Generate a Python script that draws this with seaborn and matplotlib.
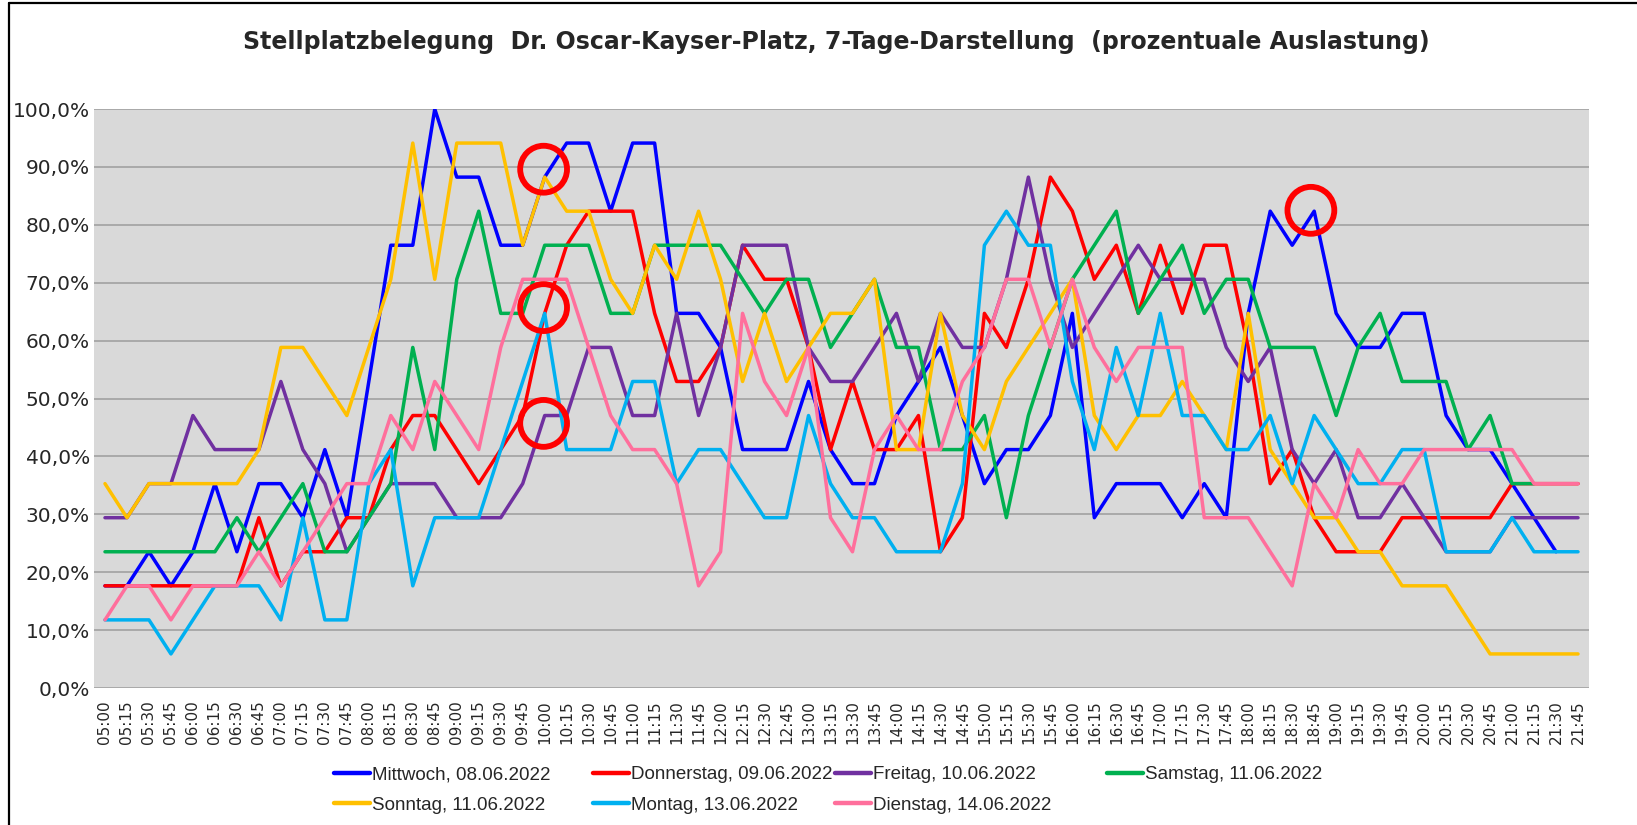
import numpy as np
import pandas as pd
import matplotlib
matplotlib.use("Agg")
import matplotlib.pyplot as plt
from matplotlib.patches import Ellipse
from matplotlib.lines import Line2D
import seaborn as sns

sns.set_style("white")
plt.rcParams['font.family'] = ['DejaVu Sans']

# =====================================
# Data: occupied spots out of 17, every 15 minutes
# =====================================
capacity = 17

times = ["05:00", "05:15", "05:30", "05:45", "06:00", "06:15", "06:30", "06:45",
         "07:00", "07:15", "07:30", "07:45", "08:00", "08:15", "08:30", "08:45",
         "09:00", "09:15", "09:30", "09:45", "10:00", "10:15", "10:30", "10:45",
         "11:00", "11:15", "11:30", "11:45", "12:00", "12:15", "12:30", "12:45",
         "13:00", "13:15", "13:30", "13:45", "14:00", "14:15", "14:30", "14:45",
         "15:00", "15:15", "15:30", "15:45", "16:00", "16:15", "16:30", "16:45",
         "17:00", "17:15", "17:30", "17:45", "18:00", "18:15", "18:30", "18:45",
         "19:00", "19:15", "19:30", "19:45", "20:00", "20:15", "20:30", "20:45",
         "21:00", "21:15", "21:30", "21:45"]

mittwoch = [3, 3, 4, 3, 4, 6, 4, 6, 6, 5,
            7, 5, 9, 13, 13, 17, 15, 15, 13, 13,
            15, 16, 16, 14, 16, 16, 11, 11, 10, 7,
            7, 7, 9, 7, 6, 6, 8, 9, 10, 8,
            6, 7, 7, 8, 11, 5, 6, 6, 6, 5,
            6, 5, 11, 14, 13, 14, 11, 10, 10, 11,
            11, 8, 7, 7, 6, 5, 4, None]

donnerstag = [3, 3, 3, 3, 3, 3, 3, 5, 3, 4,
              4, 5, 5, 7, 8, 8, 7, 6, 7, 8,
              11, 13, 14, 14, 14, 11, 9, 9, 10, 13,
              12, 12, 10, 7, 9, 7, 7, 8, 4, 5,
              11, 10, 12, 15, 14, 12, 13, 11, 13, 11,
              13, 13, 10, 6, 7, 5, 4, 4, 4, 5,
              5, 5, 5, 5, 6, 6, 6, 6]

freitag = [5, 5, 6, 6, 8, 7, 7, 7, 9, 7,
           6, 4, 5, 6, 6, 6, 5, 5, 5, 6,
           8, 8, 10, 10, 8, 8, 11, 8, 10, 13,
           13, 13, 10, 9, 9, 10, 11, 9, 11, 10,
           10, 12, 15, 12, 10, 11, 12, 13, 12, 12,
           12, 10, 9, 10, 7, 6, 7, 5, 5, 6,
           5, 4, 4, 4, 5, 5, 5, 5]

samstag = [4, 4, 4, 4, 4, 4, 5, 4, 5, 6,
           4, 4, 5, 6, 10, 7, 12, 14, 11, 11,
           13, 13, 13, 11, 11, 13, 13, 13, 13, 12,
           11, 12, 12, 10, 11, 12, 10, 10, 7, 7,
           8, 5, 8, 10, 12, 13, 14, 11, 12, 13,
           11, 12, 12, 10, 10, 10, 8, 10, 11, 9,
           9, 9, 7, 8, 6, 6, None, None]

sonntag = [6, 5, 6, 6, 6, 6, 6, 7, 10, 10,
           9, 8, 10, 12, 16, 12, 16, 16, 16, 13,
           15, 14, 14, 12, 11, 13, 12, 14, 12, 9,
           11, 9, 10, 11, 11, 12, 7, 7, 11, 8,
           7, 9, 10, 11, 12, 8, 7, 8, 8, 9,
           8, 7, 11, 7, 6, 5, 5, 4, 4, 3,
           3, 3, 2, 1, 1, 1, 1, 1]

montag = [2, 2, 2, 1, 2, 3, 3, 3, 2, 5,
          2, 2, 6, 7, 3, 5, 5, 5, 7, 9,
          11, 7, 7, 7, 9, 9, 6, 7, 7, 6,
          5, 5, 8, 6, 5, 5, 4, 4, 4, 6,
          13, 14, 13, 13, 9, 7, 10, 8, 11, 8,
          8, 7, 7, 8, 6, 8, 7, 6, 6, 7,
          7, 4, 4, 4, 5, 4, 4, 4]

dienstag = [2, 3, 3, 2, 3, 3, 3, 4, 3, 4,
            5, 6, 6, 8, 7, 9, 8, 7, 10, 12,
            12, 12, 10, 8, 7, 7, 6, 3, 4, 11,
            9, 8, 10, 5, 4, 7, 8, 7, 7, 9,
            10, 12, 12, 10, 12, 10, 9, 10, 10, 10,
            5, 5, 5, 4, 3, 6, 5, 7, 6, 6,
            7, 7, 7, 7, 7, 6, 6, 6]

days = ["Mittwoch, 08.06.2022", "Donnerstag, 09.06.2022", "Freitag, 10.06.2022",
        "Samstag, 11.06.2022", "Sonntag, 11.06.2022", "Montag, 13.06.2022",
        "Dienstag, 14.06.2022"]
series = [mittwoch, donnerstag, freitag, samstag, sonntag, montag, dienstag]
colors = ["#0000FF", "#FF0000", "#7030A0", "#00B050", "#FFC000", "#00B0F0", "#FF6F9C"]

# red marker circles drawn on the chart (slot index, percent)
circle_x = [19.95, 19.95, 19.95, 54.85]
circle_y = [89.6, 65.7, 45.7, 82.5]

# =====================================
# Long table for seaborn
# =====================================
rows = []
for day, vals in zip(days, series):
    for i, v in enumerate(vals):
        pct = np.nan if v is None else v / capacity * 100
        rows.append({"slot": i, "Tag": day, "pct": pct})
df = pd.DataFrame(rows)

# =====================================
# Plot
# =====================================
W, H = 1637, 825
fig = plt.figure(figsize=(W / 100, H / 100), dpi=100)
ax = fig.add_axes([94 / W, 1 - 688 / H, (1589 - 94) / W, (688 - 109) / H])
ax.set_facecolor("#D9D9D9")

sns.lineplot(data=df, x="slot", y="pct", hue="Tag", hue_order=days,
             palette=dict(zip(days, colors)), linewidth=2.5, estimator=None,
             legend=False, ax=ax)

ax.set_xlim(-0.5, len(times) - 0.5)
ax.set_ylim(0, 100)
ax.set_xticks(range(len(times)))
ax.set_xticklabels(times, rotation=90, fontsize=11)
yt = np.arange(0, 101, 10)
ax.set_yticks(yt)
ax.set_yticklabels([f"{v:.1f}%".replace(".", ",") for v in yt], fontsize=14.5)
ax.tick_params(length=0)
ax.tick_params(axis="x", pad=9)
ax.tick_params(axis="y", pad=3)
ax.grid(axis="y", color="#A6A6A6", linewidth=1.3)
ax.set_axisbelow(True)
ax.set_xlabel("")
ax.set_ylabel("")
for s in ax.spines.values():
    s.set_visible(False)

for cx, cy in zip(circle_x, circle_y):
    ax.add_patch(Ellipse((cx, cy), width=2.13, height=8.1, fill=False,
                         edgecolor="#FF0000", linewidth=4.2, zorder=10))

fig.text(0.511, 1 - 42 / H,
         "Stellplatzbelegung  Dr. Oscar-Kayser-Platz, 7-Tage-Darstellung  (prozentuale Auslastung)",
         ha="center", va="center", fontsize=17, fontweight="bold")

# legend: one block per Excel column so the columns line up like the original
handles = [Line2D([0], [0], color=c, linewidth=3.2) for c in colors]
columns = [[0, 4], [1, 5], [2, 6], [3]]
col_x = [334, 593, 835, 1107]
for idx, x0 in zip(columns, col_x):
    fig.legend([handles[i] for i in idx], [days[i] for i in idx],
               loc="upper left", bbox_to_anchor=(x0 / W, 1 - 766 / H),
               ncol=1, frameon=False, handlelength=1.9,
               prop={"family": ["Liberation Sans", "DejaVu Sans"], "size": 13.5},
               handletextpad=0.12, labelspacing=0.72, borderpad=0,
               borderaxespad=0)

# frame lines of the original screenshot
fig.add_artist(Line2D([9 / W, 9 / W], [0, 1 - 3 / H],
                      transform=fig.transFigure, color="black", linewidth=1.6))
fig.add_artist(Line2D([9 / W, 1], [1 - 3 / H, 1 - 3 / H],
                      transform=fig.transFigure, color="black", linewidth=1.6))

fig.savefig("out.png", dpi=100)
